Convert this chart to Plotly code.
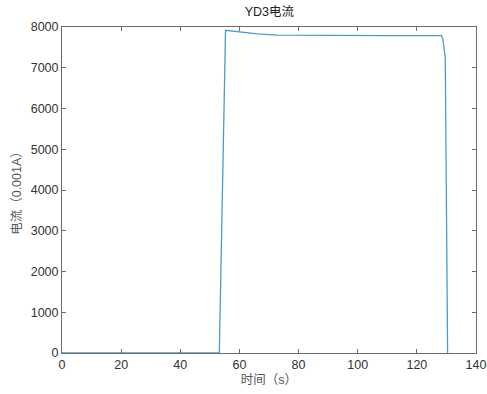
import plotly.graph_objects as go

# Current trace of YD3: time in seconds, current in units of 0.001 A
time_s = [0, 10, 20, 30, 40, 50, 53.2, 55.3, 60, 66, 72.9, 80, 90, 100, 110, 120, 128.3, 128.8, 129.3, 129.6, 130.4]
current = [0, 0, 0, 0, 0, 0, 0, 7920, 7880, 7830, 7800, 7795, 7795, 7793, 7790, 7790, 7790, 7700, 7450, 7250, 0]

x_ticks = [0, 20, 40, 60, 80, 100, 120, 140]
y_ticks = [0, 1000, 2000, 3000, 4000, 5000, 6000, 7000, 8000]

axis_color = "#6b6b6b"
font_family = "Liberation Sans, Arial, Noto Sans CJK SC, sans-serif"

fig = go.Figure()
fig.add_trace(go.Scatter(
    x=time_s, y=current, mode="lines",
    line=dict(color="#4a9cc9", width=1.3),
    showlegend=False,
))

common_axis = dict(
    showline=True, linecolor=axis_color, linewidth=1, mirror="allticks",
    ticks="inside", ticklen=4, tickcolor=axis_color, tickwidth=1,
    showgrid=False, zeroline=False, automargin=False,
    tickfont=dict(size=12.5, color="#333333", family=font_family),
)

fig.update_layout(
    width=487, height=394,
    margin=dict(l=62, r=11, t=27, b=41),
    paper_bgcolor="white", plot_bgcolor="white",
    font=dict(family=font_family),
    title=dict(text="YD3电流", x=0.553, xanchor="center", y=0.97, yanchor="middle",
               font=dict(size=12.5, color="#222222")),
    xaxis=dict(range=[0, 140], tickvals=x_ticks, **common_axis,
               title=dict(text="时间（s）", standoff=4,
                          font=dict(size=12.5, color="#555555"))),
    yaxis=dict(range=[0, 8000], tickvals=y_ticks, **common_axis,
               title=dict(text="电流（0.001A）", standoff=6,
                          font=dict(size=12.5, color="#555555"))),
)

fig.write_html("out.html")
